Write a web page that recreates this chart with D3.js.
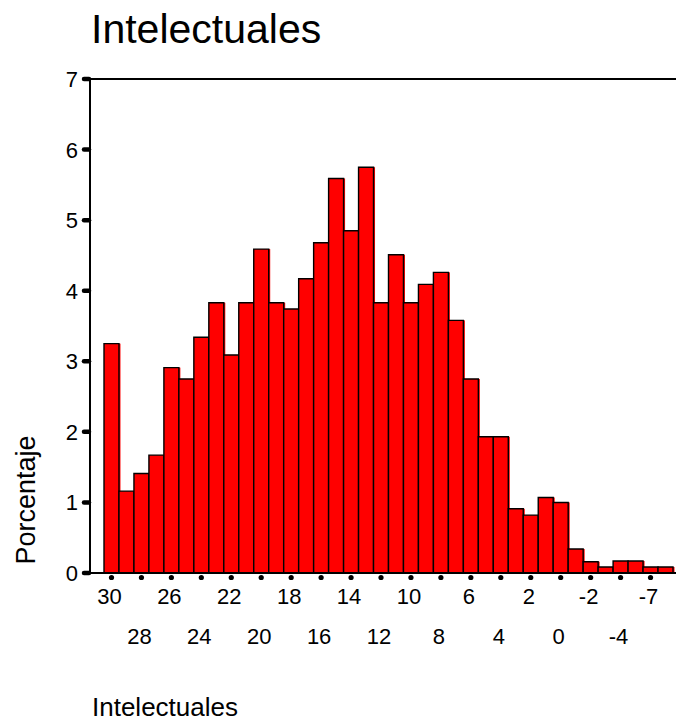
<!DOCTYPE html>
<html>
<head>
<meta charset="UTF-8">
<title>Intelectuales</title>
<script src="https://d3js.org/d3.v7.min.js"></script>
<style>
    body, html { margin: 0; background: #fff; overflow: hidden; }
    svg { display: block; }
    text { font-family: "Liberation Sans", Arial, sans-serif; fill: #000; }
</style>
</head>
<body>
<div id="chart"></div>
<script>
    // category values (x) and percentages (y)
    const categories = ["30","29","28","27","26","25","24","23","22","21","20","19","18","17","16","15","14","13","12","11","10","9","8","7","6","5","4","3","2","1","0","-1","-2","-3","-4","-5","-7","-8"];
    const percents = [3.25,1.16,1.41,1.67,2.91,2.75,3.34,3.83,3.09,3.83,4.59,3.83,3.74,4.17,4.68,5.59,4.85,5.75,3.83,4.51,3.83,4.09,4.26,3.58,2.75,1.93,1.93,0.91,0.82,1.07,1.0,0.34,0.16,0.085,0.17,0.17,0.085,0.085];
    const yTicks = [0,1,2,3,4,5,6,7];

    const width = 676, height = 722;

    const svg = d3.select("#chart").append("svg")
        .attr("width", width)
        .attr("height", height);

    const x = d3.scaleBand()
        .domain(categories)
        .range([104, 673])
        .padding(0);

    const y = d3.scaleLinear()
        .domain([0, 7])
        .range([573, 79]);

    // title
    svg.append("text")
        .attr("x", 91)
        .attr("y", 43)
        .attr("font-size", 41)
        .text("Intelectuales");

    // bars: red fill slightly shifted right, black outline
    const bars = svg.append("g");
    categories.forEach((c, i) => {
        const x0 = x(c), w = x.bandwidth(), top = y(percents[i]);
        bars.append("rect")
            .attr("x", x0)
            .attr("y", top)
            .attr("width", w + 1.5)
            .attr("height", y(0) - top)
            .attr("fill", "#ff0000");
        bars.append("path")
            .attr("d", `M${x0},${y(0)}V${top}H${x0 + w}V${y(0)}`)
            .attr("fill", "none")
            .attr("stroke", "#000")
            .attr("stroke-width", 1.4);
    });

    // frame: left axis, top line, bottom axis
    svg.append("line")
        .attr("x1", 90).attr("x2", 90)
        .attr("y1", y(7)).attr("y2", y(0))
        .attr("stroke", "#000").attr("stroke-width", 2);
    svg.append("line")
        .attr("x1", 90).attr("x2", width)
        .attr("y1", y(7)).attr("y2", y(7))
        .attr("stroke", "#000").attr("stroke-width", 2);
    svg.append("line")
        .attr("x1", 88).attr("x2", width)
        .attr("y1", y(0)).attr("y2", y(0))
        .attr("stroke", "#000").attr("stroke-width", 2);

    // y ticks and labels
    const yg = svg.append("g");
    yTicks.forEach(t => {
        yg.append("line")
            .attr("x1", 84).attr("x2", 89)
            .attr("y1", y(t)).attr("y2", y(t))
            .attr("stroke", "#000")
            .attr("stroke-width", 4.5)
            .attr("stroke-linecap", "round");
        yg.append("text")
            .attr("x", 78)
            .attr("y", y(t) + 8)
            .attr("text-anchor", "end")
            .attr("font-size", 22)
            .text(t);
    });

    // x tick dots and labels on every other category, two staggered rows
    const xg = svg.append("g");
    categories.forEach((c, i) => {
        if (i % 2 !== 0) return;
        const cx = x(c) + x.bandwidth() / 2;
        xg.append("circle")
            .attr("cx", cx)
            .attr("cy", 577.5)
            .attr("r", 2.6)
            .attr("fill", "#000");
        const row = (i / 2) % 2;
        xg.append("text")
            .attr("x", cx - 2)
            .attr("y", row === 0 ? 604 : 644)
            .attr("text-anchor", "middle")
            .attr("font-size", 22)
            .text(c);
    });

    // y axis title
    svg.append("text")
        .attr("transform", "translate(35,500) rotate(-90)")
        .attr("text-anchor", "middle")
        .attr("font-size", 27)
        .text("Porcentaje");

    // x axis title
    svg.append("text")
        .attr("x", 92)
        .attr("y", 716)
        .attr("font-size", 26)
        .text("Intelectuales");
</script>
</body>
</html>
